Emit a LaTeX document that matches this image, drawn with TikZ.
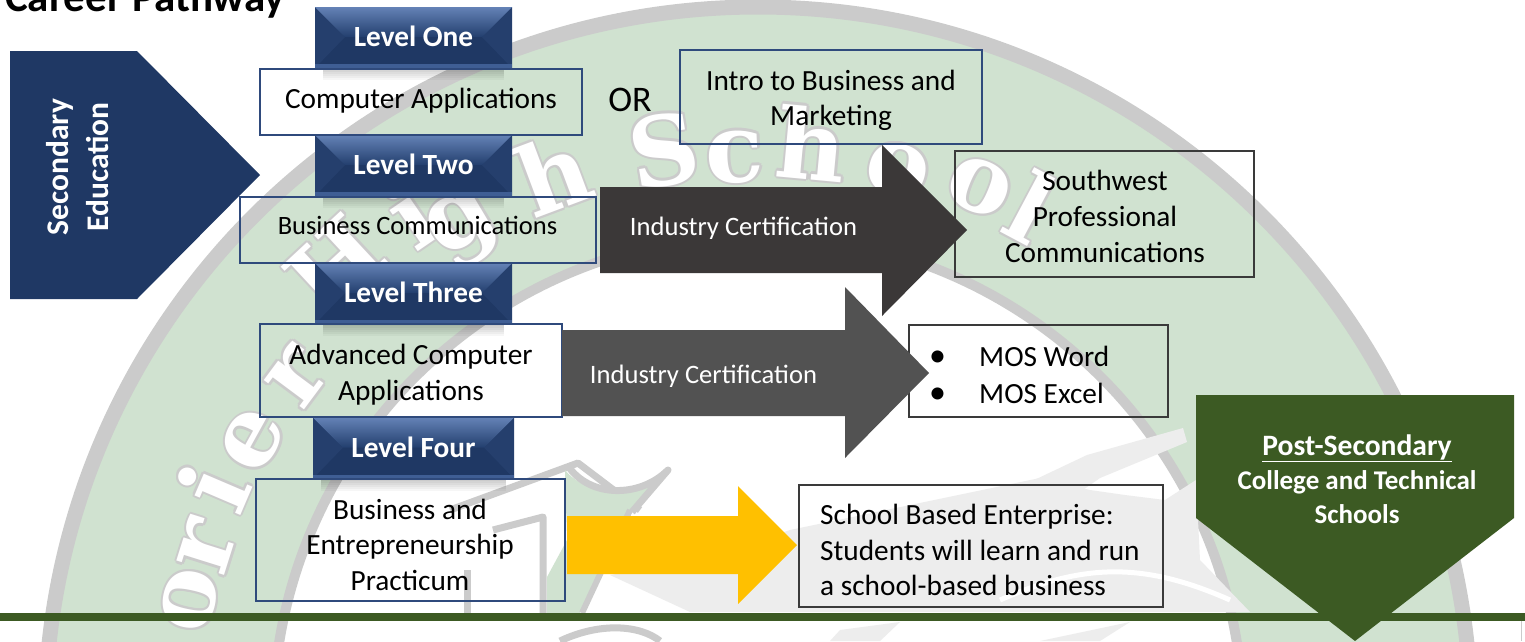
\documentclass[tikz,border=0pt]{standalone}
\usepackage{fontspec}
\setmainfont{Carlito}
\newfontfamily\wmfont{DejaVu Serif}
\definecolor{navy}{HTML}{1F3864}
\definecolor{bevtop}{HTML}{6482B6}
\definecolor{bevmid}{HTML}{233F6E}
\definecolor{bevside}{HTML}{253F6D}
\definecolor{bevlow}{HTML}{3F5E94}
\definecolor{boxblue}{HTML}{2F4A7C}
\definecolor{boxdark}{HTML}{3A3A3A}
\definecolor{forest}{HTML}{3C5A23}
\definecolor{arrdark}{HTML}{3B3838}
\definecolor{arrgray}{HTML}{525252}
\definecolor{arrgold}{HTML}{FFC000}
\definecolor{wmgreen}{HTML}{D0E2D0}
\definecolor{wmgray}{HTML}{CBCBCB}
\definecolor{wmpale}{HTML}{EDEDED}
\tikzset{
  levelbar/.style={rectangle,minimum width=#1,minimum height=61pt,inner sep=0pt,fill=navy,text=white,
    font=\fontsize{29.3}{32}\selectfont\bfseries,
    path picture={
      \coordinate (NW) at (path picture bounding box.north west);
      \coordinate (NE) at (path picture bounding box.north east);
      \coordinate (SW) at (path picture bounding box.south west);
      \coordinate (SE) at (path picture bounding box.south east);
      \fill[bevside] (NW) -- ++(30,30) -- (SW) -- cycle;
      \fill[bevside] (NE) -- ++(-30,30) -- (SE) -- cycle;
      \shade[top color=bevtop,bottom color=bevmid] (NW) -- (NE) -- ++(-30,30) -- ($(NW)+(30,30)$) -- cycle;
      \fill[bevlow] (SW) rectangle ($(SE)+(0,-4)$);
    }},
  coursebox/.style={draw=boxblue,line width=1.1pt,fill=none},
  blackbox/.style={draw=boxdark,line width=1.1pt,fill=none},
  bodytext/.style={inner sep=0pt,align=center,font=\fontsize{29.3}{36}\selectfont},
  wmletter/.style={inner sep=0pt,font=\fontsize{96}{98}\selectfont\wmfont\bfseries},
}
\usetikzlibrary{calc}
\newcommand{\lvlshadow}[1]{%
  \foreach \si in {1,...,6}{\fill[black,opacity=.035] ($(#1.south west)+(8,0)$) rectangle ($(#1.south east)+(-8,2*\si)$);}}
\begin{document}
\begin{tikzpicture}[x=1pt,y=-1pt]
\useasboundingbox (0,0) rectangle (1525,641);
\begin{scope}
\clip (0,0) rectangle (1525,641);
% watermark seal
\coordinate (sealc) at (758,720);
\fill[wmgreen] (sealc) circle (713);
\draw[wmgray,line width=15pt] (sealc) circle (713);
\fill[white] (sealc) circle (485);
\draw[wmgray,line width=10pt] (sealc) circle (485);
% pale mountain shapes
\fill[wmpale] (790,530) -- (1040,478) -- (1090,490) -- (1125,495) -- (1165,500) -- (1196,480) -- (1200,560)
  -- (1250,612) -- (690,612) -- (610,575) -- (700,560) -- cycle;
\fill[wmpale] (1030,482) -- (1087,455) -- (1183,428) -- (1187,442) -- (1100,478) -- (1080,492) -- cycle;
\draw[white,line width=5pt] (1000,600) .. controls (1080,565) and (1140,560) .. (1230,600);
\fill[wmpale] (840,630) -- (900,622) -- (880,641) -- (830,641) -- cycle;
\fill[wmpale] (1040,641) -- (1130,622) -- (1100,641) -- cycle;
% house outline and swoosh
\draw[wmgray,line width=7pt,line join=round] (450,510) -- (578,463) -- (640,510);
\draw[wmgray,line width=7pt,line join=round] (493,530) -- (543,517) -- (543,613);
\draw[wmgray,line width=7pt] (467,570) -- (467,613);
\fill[wmgreen] (565,470) .. controls (590,500) and (640,495) .. (668,470) -- (630,515) -- (580,613) -- (547,613) -- (547,577) -- (567,540) -- cycle;
\draw[wmgray,line width=7pt,line join=round] (568,466) .. controls (590,498) and (640,498) .. (668,470) -- (632,512);
\draw[wmgray,line width=6pt] (630,510) -- (582,613);
\draw[wmgray,line width=7pt] (560,641) .. controls (600,622) and (640,625) .. (660,641);
% seal lettering
\foreach \wl/\wx/\wy [count=\wi] in {o/190/600,r/207/547,i/213/487,e/253/440,r/297/377,H/335/265,i/410/213,g/465/228,h/553/173,S/664/150,c/735/157,h/812/143,o/898/170,o/980/187,l/1031/207}{
  \pgfmathsetmacro{\wr}{atan2(720-\wy,\wx-758)-90}
  \foreach \ox/\oy [count=\oi] in {2.2/0,-2.2/0,0/2.2,0/-2.2,1.6/1.6,-1.6/1.6,1.6/-1.6,-1.6/-1.6}{
    \node[wmletter,text=wmgray,rotate=\wr] (wmo\wi-\oi) at (\wx+\ox,\wy+\oy) {\wl};
  }
  \node[wmletter,text=white,rotate=\wr] (wm\wi) at (\wx,\wy) {\wl};
}
% bar and boxes
\fill[forest] (0,613) rectangle (1525,621);
\draw[wmgray,line width=1pt] (1521.5,621) -- (1521.5,641);
\end{scope}
\node[anchor=base west,inner sep=0pt,font=\fontsize{43}{46}\selectfont\bfseries] (title) at (5,11) {Career Pathway};
% secondary pentagon
\fill[navy] (10,51) -- (137,51) -- (260,175) -- (137,299) -- (10,299) -- cycle;
\node[rotate=90,inner sep=0pt,align=center,text=white,font=\fontsize{31.5}{40}\selectfont\bfseries] (secondary) at (78,167) {Secondary\\Education};
% level bars
\node[levelbar=197pt] (l1) at (413.5,37.5) {\raisebox{2pt}{Level One}};
\node[levelbar=197pt] (l2) at (413.5,165.5) {\raisebox{2pt}{Level Two}};
\node[levelbar=197pt] (l3) at (413.5,293.5) {\raisebox{2pt}{Level Three}};
\node[levelbar=201pt] (l4) at (413.5,448) {\raisebox{2pt}{Level Four}};
\lvlshadow{l1}\lvlshadow{l2}\lvlshadow{l3}\lvlshadow{l4}
% course boxes
\node[coursebox,minimum width=322pt,minimum height=66pt] (b1) at (421,102) {};
\node[bodytext] (t1) at (421,101) {Computer Applications};
\node[coursebox,minimum width=356pt,minimum height=66pt] (b2) at (418,230) {};
\node[bodytext,font=\fontsize{26.5}{30}\selectfont] (t2) at (417.5,225) {Business Communications};
\node[coursebox,minimum width=302pt,minimum height=93pt] (b3) at (411,370.5) {};
\node[bodytext] (t3) at (411,375) {Advanced Computer\\Applications};
\node[coursebox,minimum width=309pt,minimum height=122pt] (b4) at (410.5,540) {};
\node[bodytext,font=\fontsize{29.3}{35.5}\selectfont] (t4) at (410,544.5) {Business and\\Entrepreneurship\\Practicum};
\node[coursebox,minimum width=302pt,minimum height=94pt] (b5) at (831,97) {};
\node[bodytext,font=\fontsize{29.3}{35}\selectfont] (t5) at (831,100.5) {Intro to Business and\\Marketing};
\node[inner sep=0pt,font=\fontsize{36}{38}\selectfont] (ortext) at (630,100) {OR};
\node[blackbox,minimum width=299pt,minimum height=126pt] (b6) at (1104.5,214) {};
\node[bodytext] (t6) at (1105,216) {Southwest\\Professional\\Communications};
\node[blackbox,minimum width=259pt,minimum height=92pt] (b7) at (1038.5,371) {};
\node[bodytext,anchor=west,align=left,font=\fontsize{29.3}{37}\selectfont] (t7) at (929,374.5) {\makebox[50pt][l]{\fontsize{34}{37}\selectfont\textbullet}MOS Word\\\makebox[50pt][l]{\fontsize{34}{37}\selectfont\textbullet}MOS Excel};
\node[blackbox,minimum width=364pt,minimum height=122pt] (b8) at (981,546) {};
\node[bodytext,anchor=west,align=left,font=\fontsize{29.3}{35.5}\selectfont] (t8) at (820,550) {School Based Enterprise:\\Students will learn and run\\a school-based business};
% arrows
\fill[arrdark] (600,187) -- (882,187) -- (882,145) -- (967,230) -- (882,316) -- (882,273) -- (600,273) -- cycle;
\fill[arrgray] (562,330) -- (845,330) -- (845,287) -- (929,373) -- (845,458) -- (845,416) -- (562,416) -- cycle;
\fill[arrgold] (567,516) -- (738,516) -- (738,486) -- (797,545) -- (738,604) -- (738,574) -- (567,574) -- cycle;
\begin{scope}
\clip (600,187) rectangle (882,238);
\node[inner sep=0pt,text=white,font=\fontsize{26.6}{30}\selectfont] (i1) at (743.5,228) {Industry Certification};
\end{scope}
\begin{scope}
\clip (562,330) rectangle (845,386);
\node[inner sep=0pt,text=white,font=\fontsize{26.6}{30}\selectfont] (i2) at (703.5,376) {Industry Certification};
\end{scope}
% post-secondary arrow
\fill[forest] (1196,395) -- (1514,395) -- (1514,518) -- (1355,641) -- (1196,518) -- cycle;
\node[inner sep=0pt,align=center,text=white,font=\fontsize{29.6}{34}\selectfont\bfseries] (post) at (1357,479) {\underline{Post-Secondary}\\{\fontsize{27}{34}\selectfont College and Technical}\\{\fontsize{27}{34}\selectfont Schools}};
\end{tikzpicture}
\end{document}
